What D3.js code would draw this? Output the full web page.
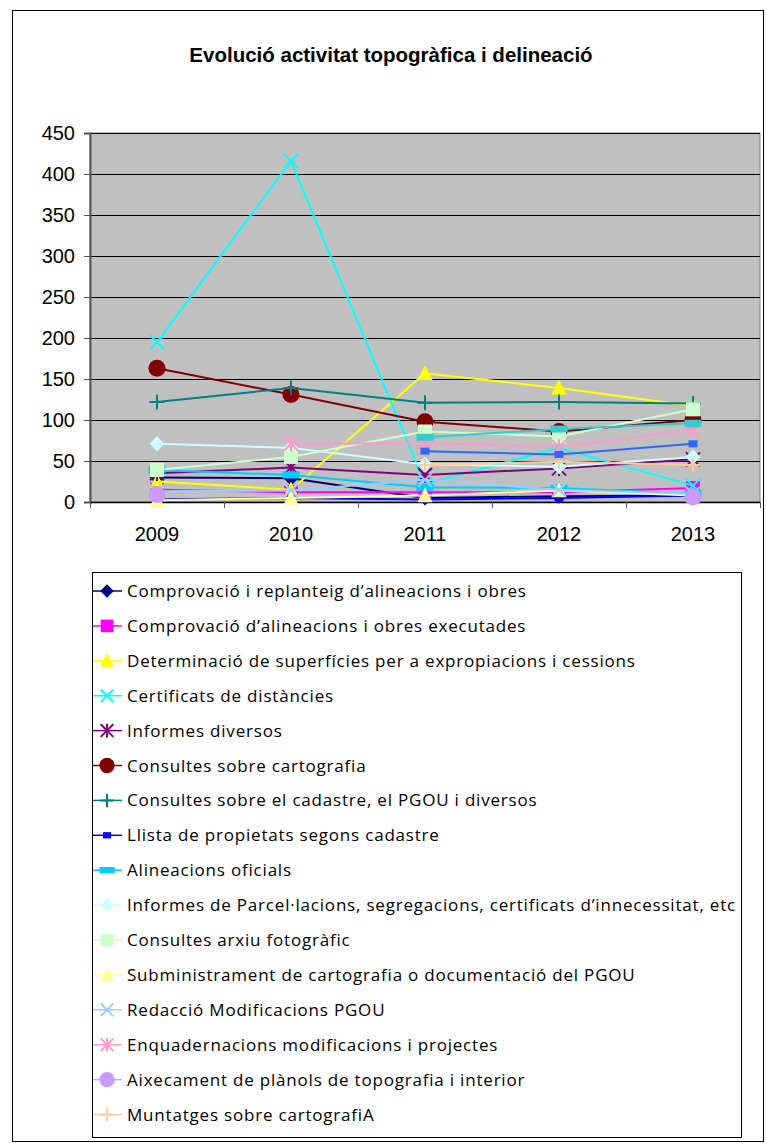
<!DOCTYPE html>
<html>
<head>
<meta charset="utf-8">
<script src="https://cdn.jsdelivr.net/npm/d3@7"></script>
<style>
  body { margin: 0; background: #fff; }
  svg { display: block; }
</style>
</head>
<body>
<svg id="chart" width="767" height="1148"></svg>
<script>
// categories and tick labels
const years = ['2009', '2010', '2011', '2012', '2013']
const yTicks = [0, 50, 100, 150, 200, 250, 300, 350, 400, 450]

// series values
const comprovacioReplanteig = [30, 29, 5, 7, 8]
const comprovacioExecutades = [15, 12, 12, 12, 17]
const determinacioSuperficies = [25, 15, 157, 139, 117]
const certificatsDistancies = [195, 416, 22, 66, 20]
const informesDiversos = [35, 42, 33, 41, 52]
const consultesCartografia = [163, 131, 98, 86, 100]
const consultesCadastre = [122, 139, 121, 122, 120]
const llistaPropietats = [3, 5, 3, 5, 8]
const alineacionsOficials = [39, 33, 18, 17, 10]
const informesParcelacions = [71, 66, 46, 43, 55]
const consultesArxiu = [39, 55, 86, 80, 113]
const subministrament = [2, 5, 8, 14, 8]
const redaccioModificacions = [13, 14, 27, 15, 10]
const enquadernacions = [null, 71, 72, 67, 88]
const aixecament = [9, null, null, null, 6]
const muntatges = [null, null, 45, 49, 45]
const serie17 = [null, null, 62, 58, 71]
const serie18 = [null, null, 79, 89, 96]

const seriesNames = [
    'Comprovació i replanteig d’alineacions i obres',
    'Comprovació d’alineacions i obres executades',
    'Determinació de superfícies per a expropiacions i cessions',
    'Certificats de distàncies',
    'Informes diversos',
    'Consultes sobre cartografia',
    'Consultes sobre el cadastre, el PGOU i diversos',
    'Llista de propietats segons cadastre',
    'Alineacions oficials',
    'Informes de Parcel·lacions, segregacions, certificats d’innecessitat, etc',
    'Consultes arxiu fotogràfic',
    'Subministrament de cartografia o documentació del PGOU',
    'Redacció Modificacions PGOU',
    'Enquadernacions modificacions i projectes',
    'Aixecament de plànols de topografia i interior',
    'Muntatges sobre cartografiA',
    '',
    ''
]
const seriesValues = [comprovacioReplanteig, comprovacioExecutades, determinacioSuperficies,
    certificatsDistancies, informesDiversos, consultesCartografia, consultesCadastre,
    llistaPropietats, alineacionsOficials, informesParcelacions, consultesArxiu,
    subministrament, redaccioModificacions, enquadernacions, aixecament, muntatges,
    serie17, serie18]
const seriesColors = ['#000080', '#FF00FF', '#FFFF00', '#00FFFF', '#800080', '#800000',
    '#008080', '#0000FF', '#00CCFF', '#CCFFFF', '#CCFFCC', '#FFFF99', '#99CCFF',
    '#FF99CC', '#CC99FF', '#FFCC99', '#3366FF', '#33CCCC']
const seriesMarkers = ['diamond', 'square', 'triangle', 'x', 'star', 'circle', 'plus', 'dash',
    'longdash', 'diamond', 'square', 'triangle', 'x', 'star', 'circle', 'plus', 'dash', 'longdash']
const legendCount = 16

let svg = d3.select('#chart')
let plotLeft = 90, plotRight = 760, plotTop = 133, plotBottom = 502
let axisFont = '20px "Liberation Sans", Arial, sans-serif'

// outer frame
svg.append('rect')
    .attr('x', 12.5).attr('y', 10.5)
    .attr('width', 751).attr('height', 1131)
    .attr('fill', '#fff').attr('stroke', '#000')

svg.append('text')
    .attr('x', 391).attr('y', 62)
    .attr('text-anchor', 'middle')
    .style('font', 'bold 20.5px "Liberation Sans", Arial, sans-serif')
    .text('Evolució activitat topogràfica i delineació')

// scales
let xScale = d3.scaleBand()
    .domain(years)
    .range([plotLeft, plotRight])
let yScale = d3.scaleLinear()
    .domain([0, 450])
    .range([plotBottom, plotTop])

// plot area
svg.append('rect')
    .attr('x', plotLeft).attr('y', plotTop)
    .attr('width', plotRight - plotLeft).attr('height', plotBottom - plotTop)
    .attr('fill', '#C0C0C0').attr('stroke', '#808080').attr('stroke-width', 1)

// gridlines
svg.append('g')
    .selectAll('line')
    .data(yTicks.slice(1))
    .enter()
    .append('line')
    .attr('x1', plotLeft).attr('x2', plotRight)
    .attr('y1', (d) => Math.round(yScale(d)) + 0.5)
    .attr('y2', (d) => Math.round(yScale(d)) + 0.5)
    .attr('stroke', '#000')

// axes
let axisLeft = d3.axisLeft(yScale).tickValues(yTicks).tickSize(6).tickPadding(9)
svg.append('g')
    .attr('transform', 'translate(' + plotLeft + ',0)')
    .call(axisLeft)
    .call((g) => g.select('.domain').attr('stroke', '#555').attr('stroke-width', 2))
    .call((g) => g.selectAll('.tick line').attr('stroke', '#555'))
    .call((g) => g.selectAll('text').style('font', axisFont).attr('fill', '#000'))

svg.append('line')
    .attr('x1', plotLeft).attr('x2', plotRight)
    .attr('y1', plotBottom + 0.5).attr('y2', plotBottom + 0.5)
    .attr('stroke', '#000').attr('stroke-width', 1.5)

let bandEdges = years.map((d) => xScale(d)).concat([plotRight])
svg.append('g')
    .selectAll('line')
    .data(bandEdges)
    .enter()
    .append('line')
    .attr('x1', (d) => Math.round(d) + 0.5).attr('x2', (d) => Math.round(d) + 0.5)
    .attr('y1', plotBottom).attr('y2', plotBottom + 6)
    .attr('stroke', '#555')

svg.append('g')
    .selectAll('text')
    .data(years)
    .enter()
    .append('text')
    .attr('x', (d) => xScale(d) + xScale.bandwidth() / 2)
    .attr('y', 541)
    .attr('text-anchor', 'middle')
    .style('font', axisFont)
    .text((d) => d)

// marker drawing
function drawMarker(g, type, color, s) {
    if (type == 'diamond') {
        let r = 7.5 * s
        g.append('path').attr('d', `M0,${-r}L${r},0L0,${r}L${-r},0Z`)
            .attr('fill', color)
    } else if (type == 'square') {
        let w = 14 * s
        g.append('rect').attr('x', -w / 2).attr('y', -w / 2).attr('width', w).attr('height', w)
            .attr('fill', color)
    } else if (type == 'triangle') {
        let w = 15 * s
        g.append('path').attr('d', `M0,${-w * 0.55}L${w / 2},${w * 0.45}L${-w / 2},${w * 0.45}Z`)
            .attr('fill', color)
    } else if (type == 'circle') {
        g.append('circle').attr('r', 8.5 * s).attr('fill', color)
    } else if (type == 'x') {
        let r = 7 * s
        g.append('path').attr('d', `M${-r},${-r}L${r},${r}M${-r},${r}L${r},${-r}`)
            .attr('stroke', color).attr('stroke-width', 2)
    } else if (type == 'star') {
        let r = 7 * s
        g.append('path').attr('d', `M${-r},${-r}L${r},${r}M${-r},${r}L${r},${-r}M0,${-r * 1.1}L0,${r * 1.1}`)
            .attr('stroke', color).attr('stroke-width', 2)
    } else if (type == 'plus') {
        let r = 7.5 * s
        g.append('path').attr('d', `M${-r},0L${r},0M0,${-r}L0,${r}`)
            .attr('stroke', color).attr('stroke-width', 2)
    } else if (type == 'dash') {
        g.append('rect').attr('x', -4.5 * s).attr('y', -3.5 * s).attr('width', 9 * s).attr('height', 7 * s)
            .attr('fill', color)
    } else if (type == 'longdash') {
        g.append('rect').attr('x', -8.5 * s).attr('y', -3.5 * s).attr('width', 17 * s).attr('height', 7 * s)
            .attr('fill', color)
    }
}

let line = d3.line()
    .defined((d) => d != null)
    .x((d, i) => xScale(years[i]) + xScale.bandwidth() / 2)
    .y((d) => yScale(d))

// series
seriesValues.forEach((vals, k) => {
    let g = svg.append('g').attr('class', 'series')
    g.append('path')
        .attr('d', line(vals))
        .attr('fill', 'none')
        .attr('stroke', seriesColors[k])
        .attr('stroke-width', 2)
    vals.forEach((v, i) => {
        if (v == null) return
        let m = g.append('g')
            .attr('transform', 'translate(' + (xScale(years[i]) + xScale.bandwidth() / 2) + ',' + yScale(v) + ')')
        drawMarker(m, seriesMarkers[k], seriesColors[k], 1)
    })
})

// legend
let legendX = 92, legendY = 572, legendRow = 34.9
svg.append('rect')
    .attr('x', legendX + 0.5).attr('y', legendY + 0.5)
    .attr('width', 649).attr('height', 565)
    .attr('fill', '#fff').attr('stroke', '#000')

let legendItems = svg.append('g')
    .selectAll('g')
    .data(seriesNames.slice(0, legendCount))
    .enter()
    .append('g')
    .attr('transform', (d, i) => 'translate(0,' + (legendY + 19 + i * legendRow) + ')')

legendItems.append('line')
    .attr('x1', 93).attr('x2', 122)
    .attr('stroke', (d, i) => seriesColors[i])
    .attr('stroke-width', 1.5)
legendItems.each(function (d, i) {
    let m = d3.select(this).append('g').attr('transform', 'translate(107,0)')
    drawMarker(m, seriesMarkers[i], seriesColors[i], 0.9)
})
legendItems.append('text')
    .attr('x', 127)
    .attr('y', 6)
    .style('font', '17px "Open Sans", "Noto Sans", sans-serif')
    .style('letter-spacing', '0.8px')
    .text((d) => d)
</script>
</body>
</html>
